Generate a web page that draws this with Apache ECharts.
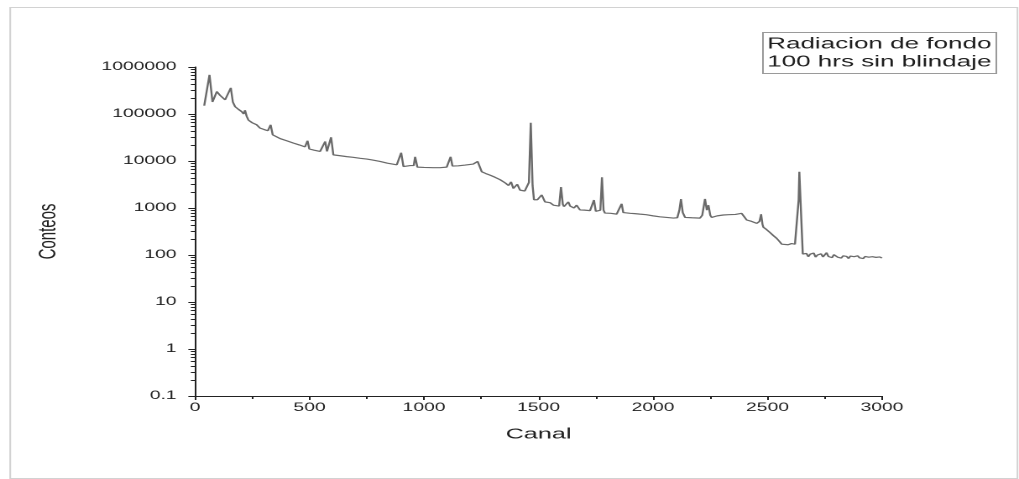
<!DOCTYPE html>
<html>
<head>
   <meta charset="utf-8">
   <title>Radiacion de fondo</title>
   <script src="https://cdn.jsdelivr.net/npm/echarts@6/dist/echarts.min.js"></script>
   <style>
      html, body {margin: 0; padding: 0; background: #fff; overflow: hidden;}
      /* the original picture is stretched sideways, so draw narrow and stretch */
      #spectrum {width: 607px; height: 479px; transform: scaleX(1.6787); transform-origin: 0 0;}
   </style>
</head>
<body>
<div id="spectrum"></div>
<script>
	var channels = [
		40, 63, 76, 95, 109, 122, 131, 145, 156, 165, 175, 190, 204, 212, 218, 225, 233, 250, 269, 284,
		300, 318, 330, 339, 371, 400, 430, 455, 480, 491, 499, 520, 546, 560, 568, 576, 586, 594, 604, 630,
		662, 690, 721, 750, 760, 770, 808, 840, 881, 893, 900, 910, 940, 955, 961, 971, 1000, 1040, 1070, 1099,
		1110, 1116, 1124, 1150, 1180, 1215, 1234, 1252, 1270, 1288, 1310, 1332, 1355, 1369, 1380, 1390, 1400, 1407, 1419, 1440,
		1451, 1458, 1466, 1474, 1480, 1495, 1505, 1514, 1528, 1540, 1550, 1565, 1579, 1590, 1598, 1606, 1611, 1622, 1630, 1638,
		1645, 1655, 1666, 1681, 1700, 1725, 1735, 1742, 1750, 1760, 1770, 1777, 1784, 1790, 1815, 1841, 1850, 1863, 1870, 1878,
		1900, 1920, 1943, 1970, 2001, 2030, 2060, 2089, 2106, 2115, 2122, 2130, 2140, 2170, 2205, 2215, 2227, 2235, 2242, 2250,
		2256, 2280, 2307, 2330, 2360, 2387, 2398, 2409, 2430, 2453, 2465, 2472, 2478, 2482, 2495, 2511, 2525, 2540, 2552, 2562,
		2575, 2590, 2605, 2620, 2630, 2636, 2639, 2644, 2650, 2654,
		2662, 2670, 2678, 2686, 2694, 2702, 2710, 2718, 2726, 2734, 2742, 2750, 2758, 2766, 2774, 2782, 2790, 2798, 2806, 2814,
		2822, 2830, 2838, 2846, 2854, 2862, 2870, 2878, 2886, 2894, 2902, 2910, 2918, 2926, 2934, 2942, 2950, 2958, 2966, 2974,
		2982, 2990, 3000
	];
	var counts = [
		150000, 680000, 180000, 300000, 250000, 260000, 200000, 210000, 360000, 180000, 143000, 125000, 112000, 100000, 120000, 90000, 74000, 65000, 59000, 50000,
		47000, 44000, 59000, 36000, 30000, 27000, 24000, 22000, 20000, 27000, 18000, 17000, 16000, 15500, 26000, 16000, 15000, 32000, 13500, 13000,
		12400, 12000, 11400, 11000, 11800, 10600, 9800, 9000, 8300, 8000, 15000, 7600, 8000, 8000, 12300, 7400, 7300, 7200, 7200, 7400,
		7500, 12300, 7800, 7900, 8200, 8600, 9800, 5900, 5400, 5000, 4500, 4000, 3400, 3000, 3600, 2600, 2700, 3200, 2400, 2300,
		2300, 3500, 65000, 3000, 1500, 1500, 1400, 1900, 1350, 1300, 1300, 1150, 1070, 1100, 2800, 1200, 1070, 1100, 1350, 1100,
		1070, 1000, 1150, 910, 900, 880, 900, 1480, 850, 800, 900, 4500, 900, 780, 770, 740, 780, 1230, 800, 780,
		770, 760, 740, 720, 680, 650, 630, 610, 620, 900, 1550, 800, 630, 620, 610, 700, 1560, 900, 1150, 700,
		630, 680, 710, 720, 730, 770, 700, 555, 520, 470, 520, 740, 450, 390, 350, 300, 260, 226, 195, 170,
		175, 165, 175, 170, 180, 1500, 5900, 1500, 300, 105,
		98, 108, 92, 104, 95, 110, 90, 100, 94, 106, 91, 99, 112, 93, 97, 88, 102, 94, 90, 98,
		86, 96, 89, 93, 84, 95, 88, 92, 85, 96, 87, 91, 84, 93, 86, 90, 83, 92, 85, 89,
		84, 91, 86
	];
	var xTicks = [0, 500, 1000, 1500, 2000, 2500, 3000];
	var yTicks = [0.1, 1, 10, 100, 1000, 10000, 100000, 1000000];
	var legendLines = ["Radiacion de fondo", "100 hrs sin blindaje"];

	var font = "Liberation Sans, Arial, sans-serif";
	var points = channels.map(function (c, i) { return [c, counts[i]]; });
	var plain = function (v) { return String(+(+v).toPrecision(6)); };

	var option = {
	    animation: false,
	    backgroundColor: '#fff',
	    title: {
	        text: legendLines.join('\n'),
	        left: 454, top: 32,
	        padding: [3, 3, 3, 3],
	        borderColor: '#9a9a9a', borderWidth: 1,
	        textStyle: {fontFamily: font, fontSize: 15.5, fontWeight: 'normal', color: '#1e1e1e', lineHeight: 18}
	    },
	    graphic: [{
	        type: 'rect', left: 3.6, top: 5, silent: true,
	        shape: {width: 600, height: 471},
	        style: {fill: 'none', stroke: '#d2d2d2', lineWidth: 1}
	    }],
	    grid: {left: 116.2, right: 81.6, top: 67, bottom: 83},
	    xAxis: {
	        type: 'value', min: xTicks[0], max: xTicks[xTicks.length - 1], interval: 500,
	        name: 'Canal', nameLocation: 'middle', nameGap: 31,
	        nameTextStyle: {fontFamily: font, fontSize: 15, color: '#222'},
	        axisLine: {lineStyle: {color: '#222', width: 1}},
	        axisTick: {show: true, length: 4, lineStyle: {color: '#222'}},
	        minorTick: {show: true, splitNumber: 2, length: 3, lineStyle: {color: '#222'}},
	        axisLabel: {fontFamily: font, fontSize: 11.5, color: '#222', margin: 6, formatter: plain},
	        splitLine: {show: false}
	    },
	    yAxis: {
	        type: 'log', logBase: 10, min: yTicks[0], max: yTicks[yTicks.length - 1], interval: 1,
	        name: 'Conteos', nameLocation: 'middle', nameGap: 80, nameRotate: 90,
	        nameTextStyle: {fontFamily: font, fontSize: 15, color: '#222'},
	        axisLine: {show: true, lineStyle: {color: '#222', width: 1}},
	        axisTick: {show: true, length: 4, lineStyle: {color: '#222'}},
	        minorTick: {show: true, splitNumber: 8, length: 2.5, lineStyle: {color: '#222'}},
	        axisLabel: {fontFamily: font, fontSize: 11.5, color: '#222', margin: 11, formatter: plain},
	        splitLine: {show: false}
	    },
	    series: [{
	        type: 'line', data: points, showSymbol: false, sampling: false,
	        lineStyle: {color: '#6a6a6a', width: 1.2},
	        z: 3
	    }]
	};

	var chart = echarts.init(document.getElementById('spectrum'), null, {devicePixelRatio: 2});
	chart.setOption(option);
</script>
</body>
</html>
